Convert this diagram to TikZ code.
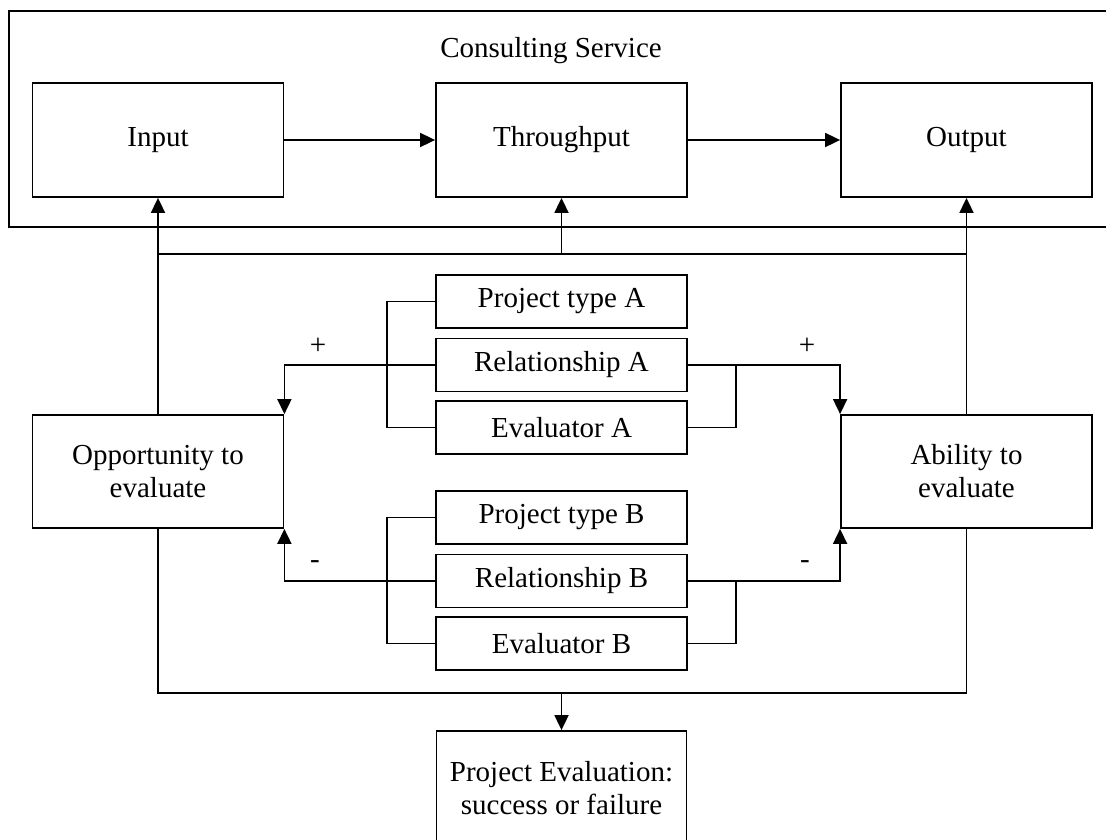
\documentclass[tikz,border=0pt]{standalone}
\usepackage{fontspec}
\setmainfont{Liberation Serif}
\usetikzlibrary{arrows.meta}
\begin{document}
\begin{tikzpicture}[x=1pt,y=-1pt,
  font=\fontsize{29}{33}\selectfont,
  box/.style={draw, line width=1.8pt, inner sep=0pt, align=center, minimum width=251pt},
  bigbox/.style={box, minimum height=114pt},
  smallbox/.style={box, minimum height=53pt},
  conn/.style={line width=1.8pt},
  arr/.style={conn, -{Triangle[length=15pt,width=14pt]}},
  sign/.style={inner sep=0pt}
]
\useasboundingbox (0,0) rectangle (1106,839);
% outer frame (open to the right)
\draw[conn] (1110,11) -- (9,11) -- (9,227) -- (1110,227);
\node[anchor=base] (cs) at (551,57) {Consulting Service};
% top row
\node[bigbox] (input) at (158,140) {Input};
\node[bigbox] (thru) at (561.5,140) {Throughput};
\node[bigbox] (output) at (966.5,140) {Output};
\draw[arr] (input.east) -- (thru.west);
\draw[arr] (thru.east) -- (output.west);
% side boxes
\node[box, minimum height=113pt] (opp) at (158,471.5) {Opportunity to\\evaluate};
\node[box, minimum height=113pt] (abl) at (966.5,471.5) {Ability to\\evaluate};
% centre boxes
\node[smallbox] (pta) at (561.5,301.5) {Project type A};
\node[smallbox] (rela) at (561.5,365) {Relationship A};
\node[smallbox] (eva) at (561.5,427.5) {Evaluator A};
\node[smallbox] (ptb) at (561.5,517.5) {Project type B};
\node[smallbox] (relb) at (561.5,581) {Relationship B};
\node[smallbox] (evb) at (561.5,643.5) {Evaluator B};
% bottom box
\node[box, minimum width=250pt, minimum height=114pt] (peval) at (561.5,788) {Project Evaluation:\\success or failure};
% links up to the service
\coordinate (j1) at (561.5,254);
\draw[arr] (opp.north) -- (input.south);
\draw[arr] (abl.north) -- (output.south);
\draw[conn] (opp.north |- j1) -- (abl.north |- j1);
\draw[arr] (j1) -- (thru.south);
% group A
\draw[conn] (pta.west) -- ++(-48,0) |- (eva.west);
\draw[conn] (eva.east) -- ++(48,0) |- (rela.east);
\draw[arr] (rela.west) -| (opp.north east);
\draw[arr] (rela.east) -| (abl.north west);
\node[sign] (pl) at (318,346) {+};
\node[sign] (pr) at (807,346) {+};
% group B
\draw[conn] (ptb.west) -- ++(-48,0) |- (evb.west);
\draw[conn] (evb.east) -- ++(48,0) |- (relb.east);
\draw[arr] (relb.west) -| (opp.south east);
\draw[arr] (relb.east) -| (abl.south west);
\node[sign] (ml) at (315,565) {-};
\node[sign] (mr) at (805,565) {-};
% links down to evaluation
\coordinate (j2) at (561.5,693);
\draw[conn] (opp.south) |- (abl.south |- j2) -- (abl.south);
\draw[arr] (j2) -- (peval.north);
\end{tikzpicture}
\end{document}
